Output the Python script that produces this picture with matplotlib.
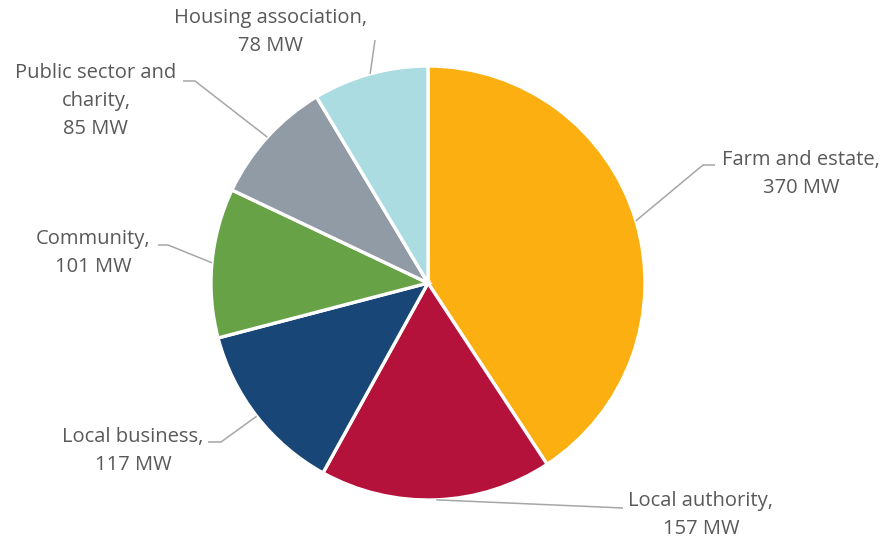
import matplotlib
matplotlib.use("Agg")
import matplotlib.pyplot as plt
import numpy as np

# Capacity by owner type (MW)
categories = ["Farm and estate", "Local authority", "Local business",
              "Community", "Public sector and\ncharity", "Housing association"]
capacity_mw = [370, 157, 117, 101, 85, 78]
colors = ["#FCAF10", "#B5123B", "#174677", "#67A346", "#919BA5", "#AADCE1"]

W, H = 887, 545
fig = plt.figure(figsize=(W / 100, H / 100), dpi=100)
ax = fig.add_axes([0, 0, 1, 1])


def px(x, y):
    """Pixel position (origin top-left) to data coordinates."""
    return (x, H - y)


cx, cy, r = 428, 283, 217
wedges, _ = ax.pie(capacity_mw, colors=colors, startangle=90, counterclock=False,
                   center=px(cx, cy), radius=r,
                   wedgeprops=dict(edgecolor="white", linewidth=2.4))
ax.set_xlim(0, W)
ax.set_ylim(0, H)
ax.set_aspect("auto")
ax.axis("off")

# label layout: leader-line waypoints after the edge point, text centre x, first-line y
layout = [
    ([(703, 165), (715, 165)], 801, 160),
    ([(623, 508)], 701, 501),
    ([(221, 442), (208, 442)], 133, 437),
    ([(168, 245), (158, 245)], 93, 239),
    ([(195, 81), (183, 81)], 96, 73),
    ([(375, 40)], 271, 18),
]

text_color = "#595959"
line_color = "#A6A6A6"
font = "Open Sans"
fsize = 14.5
step = 28

for w, name, val, (pts, tx, ty) in zip(wedges, categories, capacity_mw, layout):
    mid = np.deg2rad((w.theta1 + w.theta2) / 2)
    ex = w.center[0] + w.r * np.cos(mid)
    ey = w.center[1] + w.r * np.sin(mid)
    xs = [ex] + [px(*p)[0] for p in pts]
    ys = [ey] + [px(*p)[1] for p in pts]
    ax.plot(xs, ys, color=line_color, lw=1.1, solid_capstyle="butt")
    lines = name.split("\n")
    lines[-1] += ","
    lines.append(f"{val} MW")
    for i, s in enumerate(lines):
        ax.text(*px(tx, ty + i * step), s, ha="center", va="center",
                fontsize=fsize, family=font, color=text_color)

fig.savefig("out.png", dpi=100, facecolor="white")
